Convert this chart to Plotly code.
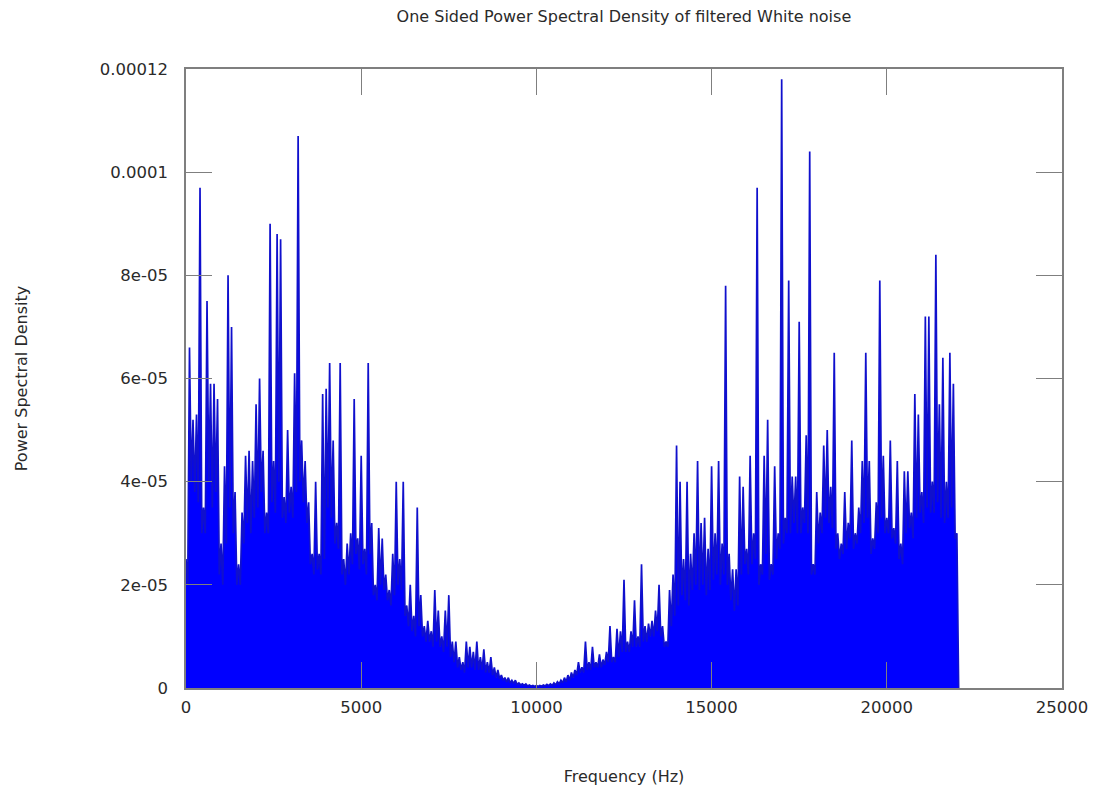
import plotly.graph_objects as go

# One-sided PSD of band-stop filtered white noise, sampled every 50 Hz.
# Bin maxima (even bins) and the lower envelope between them (odd bins), in units of 1e-6.
BIN_HZ = 100
PSD_UNIT = 1e-6

peak_psd = [
    25, 66, 52, 53, 97, 35, 75, 59, 59, 56,
    28, 43, 80, 70, 38, 24, 34, 45, 46, 44,
    55, 60, 46, 34, 90, 44, 88, 87, 37, 50,
    39, 61, 107, 48, 44, 36, 26, 40, 26, 57,
    58, 63, 48, 32, 63, 25, 28, 30, 56, 29,
    45, 27, 63, 32, 20, 31, 29, 22, 19, 26,
    40, 25, 40, 16, 20, 14, 35, 18, 12, 13,
    11, 19, 15, 10, 15, 18, 9, 9, 6, 5,
    9, 8, 7, 9, 6, 7.5, 5, 6, 4, 3.5,
    2.5, 2, 2, 1.5, 1.5, 1, 0.8, 0.8, 0.6, 0.5,
    0.5, 0.5, 0.6, 0.7, 0.8, 1, 1.2, 1.5, 2, 2.5,
    3, 3.5, 5, 4, 9, 5, 8, 5, 6.5, 5.5,
    7, 12, 6, 11.5, 11, 21, 9, 11, 17, 10,
    24, 12, 12.5, 13, 15, 20, 12, 9, 19, 22,
    47, 40, 25, 40, 26, 30, 44, 32, 33, 27,
    43, 30, 44, 28, 78, 26, 23, 23, 41, 39,
    27, 45, 30, 97, 24, 45, 52, 24, 43, 30,
    118, 33, 79, 41, 41, 71, 35, 49, 104, 24,
    38, 34, 47, 50, 39, 65, 30, 28, 38, 32,
    48, 30, 35, 44, 65, 44, 29, 36, 79, 45,
    33, 48, 31, 44, 28, 42, 42, 34, 57, 53,
    38, 72, 72, 40, 84, 55, 64, 40, 65, 59,
    30,
]

dip_psd = [
    20, 40, 38, 36, 30, 30, 40, 35, 38, 22,
    20, 28, 35, 30, 20, 20, 28, 32, 30, 33,
    35, 38, 30, 30, 36, 34, 40, 33, 32, 34,
    33, 38, 40, 36, 32, 24, 22, 23, 22, 25,
    35, 33, 28, 27, 22, 20, 22, 24, 26, 23,
    24, 22, 26, 18, 17, 20, 19, 17, 16, 18,
    20, 19, 14, 12, 11, 10, 12, 10, 9, 9,
    8, 9, 8, 7, 8, 6, 5, 4, 3.5, 3,
    4, 4, 3.5, 3.5, 3.5, 3, 3, 2.5, 2, 1.8,
    1.5, 1.2, 1, 0.9, 0.7, 0.6, 0.5, 0.4, 0.35, 0.3,
    0.3, 0.35, 0.4, 0.45, 0.5, 0.6, 0.8, 1, 1.2, 1.5,
    2, 2.5, 3, 3, 3.5, 3.5, 4, 4, 4, 4.5,
    5, 5, 5, 6, 7, 7, 7, 8, 8, 8,
    9, 9, 10, 10, 11, 10, 8, 8, 12, 14,
    16, 18, 17, 16, 19, 20, 19, 20, 18, 19,
    21, 22, 20, 22, 20, 17, 15, 16, 22, 24,
    22, 24, 25, 20, 22, 26, 21, 22, 25, 27,
    28, 30, 30, 32, 30, 30, 32, 30, 22, 22,
    28, 30, 33, 32, 31, 27, 25, 26, 27, 29,
    27, 28, 30, 32, 33, 26, 27, 30, 33, 30,
    30, 29, 28, 25, 24, 30, 31, 29, 33, 34,
    32, 35, 34, 34, 36, 33, 32, 33, 35, 29,
    0,
]

x_tick_vals = [0, 5000, 10000, 15000, 20000, 25000]
x_tick_text = ["0", "5000", "10000", "15000", "20000", "25000"]
y_tick_vals = [0, 2e-5, 4e-5, 6e-5, 8e-5, 1e-4, 1.2e-4]
y_tick_text = ["0", "2e-05", "4e-05", "6e-05", "8e-05", "0.0001", "0.00012"]

# Interleave bin maxima with the envelope values that follow them.
freq, psd = [], []
for i, (p, d) in enumerate(zip(peak_psd, dip_psd)):
    freq += [i * BIN_HZ, i * BIN_HZ + BIN_HZ / 2]
    psd += [p * PSD_UNIT, d * PSD_UNIT]

FONT = "DejaVu Sans, Verdana, sans-serif"
TEXT = "#2a2a2a"
FRAME = "#7f7f7f"

fig = go.Figure(
    go.Scatter(
        x=freq, y=psd, mode="lines",
        line=dict(color="rgb(16,16,205)", width=1.7, simplify=False),
        fill="tozeroy", fillcolor="rgb(0,0,255)",
        hoverinfo="skip", showlegend=False,
    )
)

axis_common = dict(
    showgrid=False, zeroline=False, showline=True, linecolor=FRAME, linewidth=1.6,
    mirror="ticks", ticks="inside", ticklen=26, tickwidth=1.2, tickcolor=FRAME,
    tickfont=dict(family=FONT, size=16.5, color=TEXT), automargin=False,
)

fig.update_layout(
    width=1101, height=791,
    margin=dict(l=186, r=39, t=69, b=103),
    paper_bgcolor="white", plot_bgcolor="white",
    title=dict(
        text="One Sided Power Spectral Density of filtered White noise",
        x=0.5667, xanchor="center", y=0.986, yanchor="top",
        font=dict(family=FONT, size=16, color=TEXT),
    ),
    xaxis=dict(
        range=[0, 25000], tickvals=x_tick_vals, ticktext=x_tick_text,
        ticklabelstandoff=3,
        title=dict(text="Frequency (Hz)", standoff=55,
                   font=dict(family=FONT, size=16, color=TEXT)),
        **axis_common,
    ),
    yaxis=dict(
        range=[0, 1.2e-4], tickvals=y_tick_vals, ticktext=y_tick_text,
        ticklabelstandoff=13,
        title=dict(text="Power Spectral Density", standoff=68,
                   font=dict(family=FONT, size=16, color=TEXT)),
        **axis_common,
    ),
)

fig.write_html("out.html")
